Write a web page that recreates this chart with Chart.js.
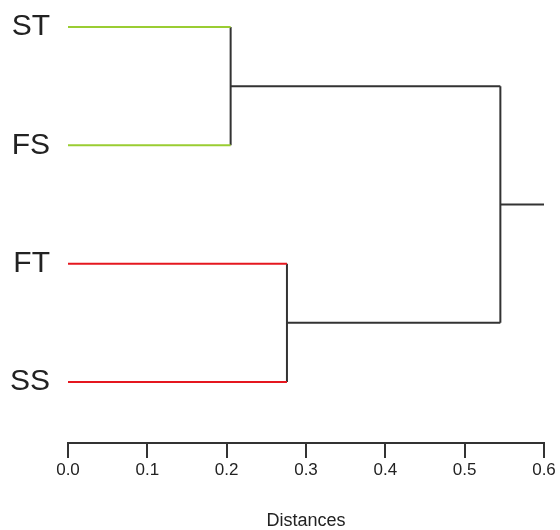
<!DOCTYPE html>
<html>
<head>
<meta charset="utf-8">
<script src="https://cdn.jsdelivr.net/npm/chart.js@4/dist/chart.umd.min.js"></script>
<style>
  html, body { margin: 0; padding: 0; background: #fff; }
  #wrap { width: 560px; height: 530px; }
</style>
</head>
<body>
<div id="wrap"><canvas id="grafica"></canvas></div>
<script>
// hojas, de arriba hacia abajo
const leaves = ['ST', 'FS', 'FT', 'SS'];
const leafColors = ['#9acd32', '#9acd32', '#e5171f', '#e5171f'];
// uniones: nodo A, nodo B, distancia
const mergeA = ['ST', 'FT', 'm0'];
const mergeB = ['FS', 'SS', 'm1'];
const mergeHeight = [0.205, 0.276, 0.545];
const rootEnd = 0.6;
const xTicks = [0, 0.1, 0.2, 0.3, 0.4, 0.5, 0.6];

const BLACK = '#333333';

// posicion vertical de cada hoja (ST arriba)
const pos = {};
leaves.forEach((l, i) => { pos[l] = leaves.length - i; });

function seg(x1, y1, x2, y2, color) {
    return {
        data: [{x: x1, y: y1}, {x: x2, y: y2}],
        borderColor: color,
        borderWidth: 2,
        pointRadius: 0,
        showLine: true,
        fill: false,
        tension: 0
    };
}

const datasets = [];
const nodeX = {};
leaves.forEach(l => { nodeX[l] = 0; });

mergeHeight.forEach((h, i) => {
    const a = mergeA[i], b = mergeB[i];
    // tramo horizontal de cada hijo hasta la union
    const colA = leaves.includes(a) ? leafColors[leaves.indexOf(a)] : BLACK;
    const colB = leaves.includes(b) ? leafColors[leaves.indexOf(b)] : BLACK;
    datasets.push(seg(nodeX[a], pos[a], h, pos[a], colA));
    datasets.push(seg(nodeX[b], pos[b], h, pos[b], colB));
    // tramo vertical
    datasets.push(seg(h, pos[a], h, pos[b], BLACK));
    const id = 'm' + i;
    pos[id] = (pos[a] + pos[b]) / 2;
    nodeX[id] = h;
});
const root = 'm' + (mergeHeight.length - 1);
datasets.push(seg(nodeX[root], pos[root], rootEnd, pos[root], BLACK));

const fam = "'Liberation Sans', Arial, sans-serif";

const config = {
    type: 'line',
    data: { datasets: datasets },
    options: {
        responsive: true,
        maintainAspectRatio: false,
        animation: false,
        layout: { padding: { top: 0, right: 16, bottom: 0, left: 0 } },
        plugins: { legend: { display: false }, tooltip: { enabled: false } },
        scales: {
            x: {
                type: 'linear',
                min: 0,
                max: 0.6,
                afterBuildTicks: s => { s.ticks = xTicks.map(v => ({value: v})); },
                afterFit: s => { s.height = 87; s.paddingLeft = 0; s.paddingRight = 0; },
                border: { display: true, color: BLACK, width: 2 },
                grid: { drawOnChartArea: false, drawTicks: true, tickLength: 15, color: BLACK, lineWidth: 2 },
                ticks: {
                    color: '#222',
                    font: { family: fam, size: 17 },
                    padding: 2,
                    maxRotation: 0,
                    callback: v => v.toFixed(1)
                },
                title: {
                    display: true,
                    text: 'Distances',
                    color: '#222',
                    font: { family: fam, size: 18, lineHeight: 1.0 },
                    padding: { top: 0, bottom: 0 }
                }
            },
            y: {
                type: 'linear',
                min: 0.4845,
                max: 4.228,
                afterBuildTicks: s => { s.ticks = leaves.map(l => ({value: pos[l]})); },
                afterFit: s => { s.width = 68; s.paddingTop = 0; s.paddingBottom = 0; },
                border: { display: false },
                grid: { display: false, drawTicks: false },
                ticks: {
                    color: '#222',
                    font: { family: fam, size: 30 },
                    padding: 18,
                    callback: v => leaves[leaves.length - v]
                }
            }
        }
    }
};

new Chart(document.getElementById('grafica'), config);
</script>
</body>
</html>
